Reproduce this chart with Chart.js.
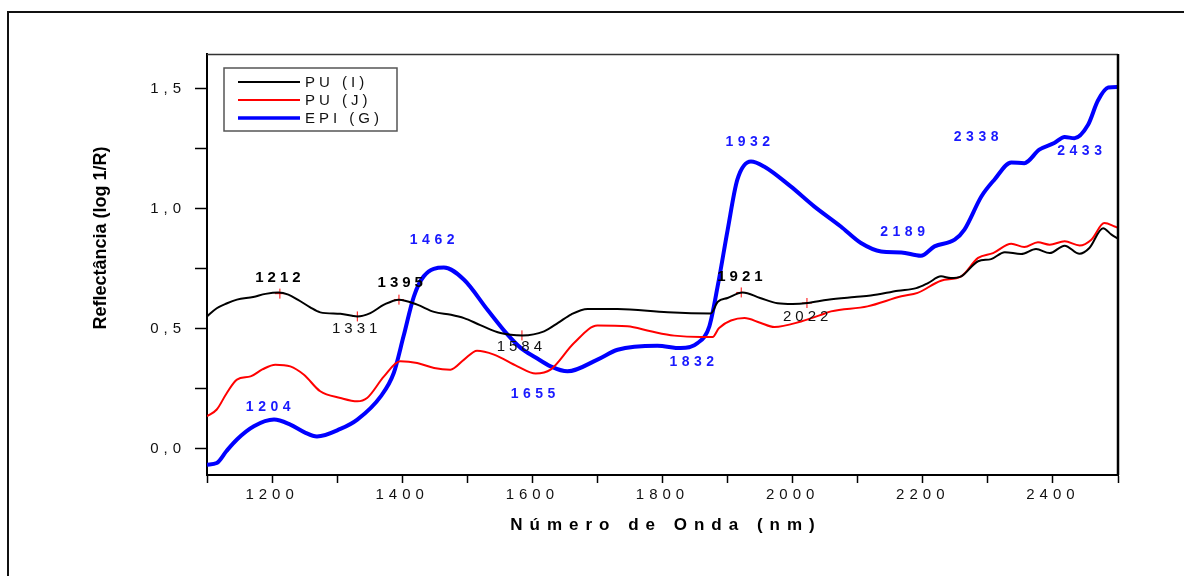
<!DOCTYPE html>
<html>
<head>
    <title>Reflectância NIR - PU e EPI</title>
    <script src="https://cdn.jsdelivr.net/npm/chart.js@4.4.0/dist/chart.umd.min.js"></script>
    <style>
        body { margin: 0; background: #fff; }
        #wrap { width: 1184px; height: 576px; }
    </style>
</head>
<body>
<div id="wrap"><canvas id="nirChart" width="1184" height="576"></canvas></div>
<script>
    // PU (I) - black
    const nmPuI = [1100, 1115, 1130, 1146, 1171, 1190, 1210, 1225, 1240, 1258, 1274, 1305, 1331, 1351, 1372, 1395, 1423, 1449, 1475, 1495,
        1520, 1551, 1585, 1618, 1640, 1660, 1685, 1731, 1808, 1874, 1885, 1900, 1923, 1950, 1977, 2000, 2023, 2054, 2095, 2120,
        2162, 2190, 2208, 2228, 2243, 2259, 2285, 2305, 2326, 2351, 2374, 2395, 2418, 2441, 2456, 2477, 2490, 2500];
    const valPuI = [0.551, 0.585, 0.605, 0.621, 0.632, 0.645, 0.651, 0.642, 0.620, 0.590, 0.568, 0.562, 0.551, 0.565, 0.600, 0.621, 0.600, 0.570, 0.558, 0.544,
        0.515, 0.482, 0.472, 0.489, 0.525, 0.560, 0.582, 0.582, 0.568, 0.563, 0.612, 0.628, 0.651, 0.628, 0.606, 0.603, 0.607, 0.621, 0.632, 0.638,
        0.658, 0.669, 0.690, 0.718, 0.711, 0.718, 0.781, 0.790, 0.819, 0.811, 0.832, 0.815, 0.846, 0.812, 0.836, 0.919, 0.892, 0.875];

    // PU (J) - red
    const nmPuJ = [1100, 1115, 1130, 1146, 1167, 1185, 1205, 1228, 1249, 1274, 1305, 1331, 1346, 1372, 1397, 1423, 1449, 1474, 1495, 1515,
        1541, 1577, 1605, 1628, 1664, 1700, 1746, 1782, 1818, 1859, 1877, 1887, 1926, 1950, 1972, 2013, 2044, 2059, 2115, 2167,
        2192, 2228, 2259, 2285, 2308, 2336, 2356, 2377, 2395, 2418, 2441, 2459, 2479, 2495, 2500];
    const valPuJ = [0.135, 0.163, 0.230, 0.288, 0.301, 0.330, 0.350, 0.343, 0.308, 0.239, 0.211, 0.197, 0.211, 0.301, 0.364, 0.357, 0.336, 0.329, 0.371, 0.408,
        0.392, 0.343, 0.313, 0.329, 0.440, 0.513, 0.510, 0.489, 0.471, 0.465, 0.465, 0.503, 0.544, 0.525, 0.507, 0.530, 0.558, 0.572, 0.593, 0.635,
        0.649, 0.700, 0.718, 0.795, 0.815, 0.854, 0.840, 0.860, 0.850, 0.864, 0.847, 0.871, 0.940, 0.926, 0.920];

    // EPI (G) - blue
    const nmEpiG = [1100, 1115, 1130, 1146, 1172, 1203, 1228, 1250, 1269, 1305, 1331, 1367, 1387, 1402, 1418, 1433, 1464, 1495, 1531, 1562,
        1582, 1605, 1628, 1654, 1700, 1731, 1792, 1828, 1854, 1872, 1885, 1900, 1915, 1936, 1956, 1997, 2033, 2074, 2105, 2136,
        2167, 2197, 2218, 2249, 2264, 2290, 2310, 2336, 2356, 2379, 2402, 2418, 2433, 2454, 2469, 2485, 2500];
    const valEpiG = [-0.067, -0.060, -0.010, 0.038, 0.093, 0.121, 0.100, 0.068, 0.051, 0.082, 0.121, 0.218, 0.315, 0.468, 0.635, 0.718, 0.755, 0.704, 0.579, 0.475,
        0.420, 0.380, 0.343, 0.322, 0.371, 0.412, 0.429, 0.419, 0.440, 0.510, 0.680, 0.910, 1.121, 1.197, 1.176, 1.093, 1.010, 0.926, 0.857, 0.822,
        0.818, 0.804, 0.843, 0.871, 0.913, 1.051, 1.121, 1.193, 1.190, 1.246, 1.274, 1.299, 1.294, 1.350, 1.450, 1.505, 1.507];

    // marked points on PU (I)
    const markerNm = [1212, 1331, 1395, 1584, 1921, 2022];
    const markerVal = [0.646, 0.551, 0.621, 0.472, 0.651, 0.607];

    // band labels (anchored in data units)
    const puPeakText = ['1212', '1395', '1921'];
    const puPeakX = [1209, 1397, 1919];
    const puPeakY = [0.7125, 0.692, 0.718];
    const puValleyText = ['1331', '1584', '2022'];
    const puValleyX = [1327, 1580, 2020];
    const puValleyY = [0.50, 0.425, 0.55];
    const epiText = ['1204', '1462', '1655', '1832', '1932', '2189', '2338', '2433'];
    const epiX = [1194, 1446, 1601, 1845, 1931, 2169, 2282, 2441];
    const epiY = [0.171, 0.867, 0.229, 0.36, 1.276, 0.903, 1.299, 1.242];

    const seriesNames = ['PU (I)', 'PU (J)', 'EPI (G)'];
    const xTicks = [1100, 1200, 1300, 1400, 1500, 1600, 1700, 1800, 1900, 2000, 2100, 2200, 2300, 2400, 2500];
    const yTicks = [0, 0.25, 0.5, 0.75, 1.0, 1.25, 1.5];

    const FONT = "'Liberation Sans', Arial, sans-serif";

    function toPoints(xs, ys) {
        return xs.map((x, i) => ({ x: x, y: ys[i] }));
    }

    // draws text char by char with extra spacing
    function spacedText(ctx, text, x, y, spacing, align) {
        let w = 0;
        for (const ch of text) w += ctx.measureText(ch).width + spacing;
        w -= spacing;
        let cx = align === 'center' ? x - w / 2 : (align === 'right' ? x - w : x);
        ctx.textAlign = 'left';
        for (const ch of text) {
            ctx.fillText(ch, cx, y);
            cx += ctx.measureText(ch).width + spacing;
        }
    }

    const decorPlugin = {
        id: 'decor',
        beforeDraw(chart) {
            const ctx = chart.ctx;
            ctx.save();
            ctx.fillStyle = '#fff';
            ctx.fillRect(0, 0, chart.width, chart.height);
            // outer frame (top and left visible)
            ctx.strokeStyle = '#111';
            ctx.lineWidth = 2;
            ctx.beginPath();
            ctx.moveTo(8, chart.height);
            ctx.lineTo(8, 12);
            ctx.lineTo(chart.width, 12);
            ctx.stroke();
            ctx.restore();
            if ('letterSpacing' in ctx) ctx.letterSpacing = '5px';
        },
        beforeDatasetsDraw(chart) {
            if ('letterSpacing' in chart.ctx) chart.ctx.letterSpacing = '0px';
        },
        afterDraw(chart) {
            const ctx = chart.ctx;
            const a = chart.chartArea;
            const xs = chart.scales.x, ys = chart.scales.y;
            ctx.save();
            // top and right borders of the plot box
            ctx.strokeStyle = '#333';
            ctx.lineWidth = 1.5;
            ctx.beginPath();
            ctx.moveTo(a.left, a.top + 0.5);
            ctx.lineTo(a.right, a.top + 0.5);
            ctx.stroke();
            ctx.strokeStyle = '#000';
            ctx.lineWidth = 2.5;
            ctx.beginPath();
            ctx.moveTo(a.right, a.top);
            ctx.lineTo(a.right, a.bottom);
            ctx.stroke();

            // legend
            const lx = a.left + 17, ly = a.top + 14;
            ctx.strokeStyle = '#555';
            ctx.lineWidth = 1.5;
            ctx.strokeRect(lx, ly, 173, 63);
            const colors = ['#000000', '#ff0000', '#0000ff'];
            const widths = [2, 2, 3.5];
            ctx.font = '15px ' + FONT;
            ctx.textBaseline = 'middle';
            ctx.fillStyle = '#111';
            seriesNames.forEach((name, i) => {
                const yy = ly + 14 + i * 18;
                ctx.strokeStyle = colors[i];
                ctx.lineWidth = widths[i];
                ctx.beginPath();
                ctx.moveTo(lx + 14, yy);
                ctx.lineTo(lx + 76, yy);
                ctx.stroke();
                spacedText(ctx, name, lx + 81, yy + 1, 4, 'left');
            });

            // band labels
            ctx.textBaseline = 'middle';
            ctx.font = 'bold 15px ' + FONT;
            ctx.fillStyle = '#000';
            puPeakText.forEach((t, i) => spacedText(ctx, t, xs.getPixelForValue(puPeakX[i]), ys.getPixelForValue(puPeakY[i]), 4, 'center'));
            ctx.font = '15px ' + FONT;
            ctx.fillStyle = '#111';
            puValleyText.forEach((t, i) => spacedText(ctx, t, xs.getPixelForValue(puValleyX[i]), ys.getPixelForValue(puValleyY[i]), 4, 'center'));
            ctx.font = 'bold 14px ' + FONT;
            ctx.fillStyle = '#1a1aff';
            epiText.forEach((t, i) => spacedText(ctx, t, xs.getPixelForValue(epiX[i]), ys.getPixelForValue(epiY[i]), 4.5, 'center'));

            // axis titles
            ctx.fillStyle = '#000';
            ctx.font = 'bold 17px ' + FONT;
            spacedText(ctx, 'Número de Onda (nm)', (a.left + a.right) / 2, 525, 7, 'center');
            ctx.translate(101, 238);
            ctx.rotate(-Math.PI / 2);
            ctx.font = 'bold 18px ' + FONT;
            ctx.textAlign = 'center';
            ctx.fillText('Reflectância (log 1/R)', 0, 0);
            ctx.restore();
        }
    };

    const ctx = document.getElementById('nirChart').getContext('2d');
    const nirChart = new Chart(ctx, {
        type: 'line',
        data: {
            datasets: [
                {
                    label: seriesNames[0],
                    data: toPoints(nmPuI, valPuI),
                    borderColor: '#000000',
                    borderWidth: 2,
                    pointRadius: 0,
                    tension: 0.4,
                    cubicInterpolationMode: 'monotone'
                },
                {
                    label: seriesNames[1],
                    data: toPoints(nmPuJ, valPuJ),
                    borderColor: '#ff0000',
                    borderWidth: 2,
                    pointRadius: 0,
                    tension: 0.4,
                    cubicInterpolationMode: 'monotone'
                },
                {
                    label: seriesNames[2],
                    data: toPoints(nmEpiG, valEpiG),
                    borderColor: '#0000ff',
                    borderWidth: 4,
                    pointRadius: 0,
                    tension: 0.4,
                    cubicInterpolationMode: 'monotone'
                },
                {
                    type: 'scatter',
                    label: 'marks',
                    data: toPoints(markerNm, markerVal),
                    showLine: false,
                    pointStyle: 'cross',
                    pointRadius: 5,
                    borderColor: '#ff0000',
                    borderWidth: 1
                }
            ]
        },
        options: {
            responsive: false,
            animation: false,
            layout: { padding: { left: 0, top: 54, right: 66, bottom: 0 } },
            plugins: {
                legend: { display: false },
                tooltip: { enabled: false }
            },
            scales: {
                x: {
                    type: 'linear',
                    min: 1100,
                    max: 2500,
                    afterFit: scale => { scale.height = 101; },
                    afterBuildTicks: scale => { scale.ticks = xTicks.map(v => ({ value: v })); },
                    grid: { drawOnChartArea: false, drawTicks: true, tickLength: 8, tickColor: '#000', tickWidth: 1.5 },
                    border: { display: true, color: '#000', width: 2 },
                    ticks: {
                        autoSkip: false,
                        maxRotation: 0,
                        padding: 3,
                        color: '#111',
                        font: { family: FONT, size: 15 },
                        callback: v => (v % 200 === 0 ? String(v) : '')
                    }
                },
                y: {
                    min: -0.11,
                    max: 1.645,
                    afterFit: scale => { scale.width = 207; },
                    afterBuildTicks: scale => { scale.ticks = yTicks.map(v => ({ value: v })); },
                    grid: { drawOnChartArea: false, drawTicks: true, tickLength: 12, tickColor: '#000', tickWidth: 1.5 },
                    border: { display: true, color: '#000', width: 2 },
                    ticks: {
                        padding: 9,
                        color: '#111',
                        font: { family: FONT, size: 15 },
                        callback: v => (Math.abs(v * 2 - Math.round(v * 2)) < 1e-6 ? v.toFixed(1).replace('.', ',') : '')
                    }
                }
            }
        },
        plugins: [decorPlugin]
    });
</script>
</body>
</html>
